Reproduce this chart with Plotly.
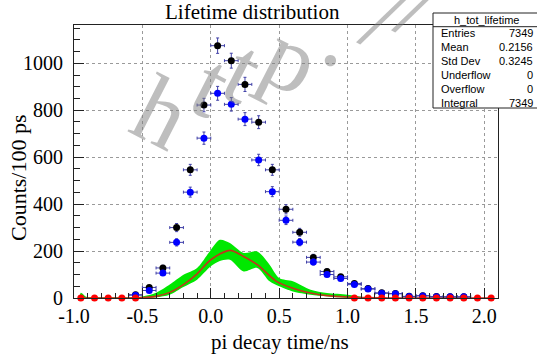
import numpy as np
import plotly.graph_objects as go

# ---------------- data ----------------
bin_x = [-0.55, -0.45, -0.35, -0.25, -0.15, -0.05, 0.05, 0.15, 0.25, 0.35, 0.45,
         0.55, 0.65, 0.75, 0.85, 0.95, 1.05, 1.15, 1.25, 1.35, 1.45, 1.55, 1.65, 1.75, 1.85]
black_counts = [14, 45, 128, 300, 546, 822, 1075, 1011, 910, 749, 546,
                378, 280, 173, 113, 90, 62, 40, 22, 19, 7, 10, 6, 5, 5]
blue_counts = [12, 32, 106, 237, 451, 681, 872, 825, 762, 588, 453,
               331, 238, 153, 100, 83, 57, 38, 20, 18, 6, 9, 5, 5, 5]

red_zero_x = [-0.95, -0.85, -0.75, -0.65, -0.55,
              1.05, 1.15, 1.25, 1.35, 1.45, 1.55, 1.65, 1.75, 1.85, 1.95, 2.05]
red_zero_y = [0] * len(red_zero_x)

curve_x = [-0.95, -0.6, -0.5, -0.4, -0.3, -0.2, -0.1, 0.0, 0.14, 0.24, 0.34, 0.48,
           0.6, 0.73, 0.85, 1.0, 1.1, 1.3, 2.05]
curve_y = [0, 0, 2, 7, 24, 57, 103, 163, 203, 177, 142, 71,
           42, 21, 10, 4, 2, 0, 0]

band_x = [-0.96, -0.95, -0.91, -0.85, -0.7, -0.6, -0.5, -0.4, -0.3, -0.2, -0.1, 0.0,
          0.066, 0.14, 0.24, 0.34, 0.43, 0.5, 0.6, 0.73, 0.85, 1.0, 1.1]
band_upper = [0, 22, 5, 3, 2, 2, 6, 22, 57, 99, 128, 205,
              248, 234, 192, 198, 142, 85, 71, 35, 21, 14, 5]
band_lower = [0, 0, 0, 0, 0, 0, 0, 3, 14, 47, 78, 135,
              158, 163, 113, 128, 71, 50, 28, 14, 7, 0, 0]

x_tickvals = [-1.0, -0.5, 0.0, 0.5, 1.0, 1.5, 2.0]
x_ticktext = ["-1.0", "-0.5", "0.0", "0.5", "1.0", "1.5", "2.0"]
y_tickvals = [0, 200, 400, 600, 800, 1000]

stats_title = "h_tot_lifetime"
stats_labels = ["Entries", "Mean", "Std Dev", "Underflow", "Overflow", "Integral"]
stats_values = ["7349", "0.2156", "0.3245", "0", "0", "7349"]

watermark_chars = ["h", "t", "t", "p", ".", "/", "/"]

# ---------------- layout helpers ----------------
W, H = 537, 354
ML, MR, MT, MB = 74, 39, 25, 56
PW, PH = W - ML - MR, H - MT - MB


def px(xp):
    return (xp - ML) / PW


def py(yp):
    return (H - MB - yp) / PH


SERIF = "Liberation Serif, Times New Roman, serif"
SANS = "Liberation Sans, Arial, sans-serif"
ERRC = "#4040a8"

fig = go.Figure()

# green band
fig.add_trace(go.Scatter(x=band_x, y=band_lower, mode="lines",
                         line=dict(width=0, color="rgba(0,0,0,0)", shape="spline", smoothing=0.8),
                         hoverinfo="skip", showlegend=False))
fig.add_trace(go.Scatter(x=band_x, y=band_upper, mode="lines", fill="tonexty",
                         fillcolor="rgb(0,232,0)",
                         line=dict(width=0, color="rgba(0,0,0,0)", shape="spline", smoothing=0.8),
                         hoverinfo="skip", showlegend=False))
# red curve
fig.add_trace(go.Scatter(x=curve_x, y=curve_y, mode="lines",
                         line=dict(width=1.6, color="#c0361c", shape="spline", smoothing=0.8),
                         showlegend=False))

half_w = [0.05] * len(bin_x)
fig.add_trace(go.Scatter(
    x=bin_x, y=black_counts, mode="markers",
    marker=dict(color="black", size=7),
    error_x=dict(type="data", array=half_w, color=ERRC, thickness=1, width=1.5),
    error_y=dict(type="data", array=list(np.sqrt(black_counts)), color=ERRC, thickness=1, width=1.5),
    showlegend=False))
fig.add_trace(go.Scatter(
    x=bin_x, y=blue_counts, mode="markers",
    marker=dict(color="#0000ff", size=7),
    error_x=dict(type="data", array=half_w, color=ERRC, thickness=1, width=1.5),
    error_y=dict(type="data", array=list(np.sqrt(blue_counts)), color=ERRC, thickness=1, width=1.5),
    showlegend=False))
fig.add_trace(go.Scatter(x=red_zero_x, y=red_zero_y, mode="markers",
                         marker=dict(color="#ff0000", size=7), cliponaxis=False,
                         showlegend=False))

axis_common = dict(showline=True, linecolor="#222", linewidth=1, mirror=True,
                   ticks="inside", tickcolor="#222", ticklen=10,
                   showgrid=True, gridcolor="#9a9a9a", griddash="dot", gridwidth=1,
                   zeroline=False, tickfont=dict(family=SERIF, size=20, color="black"))

fig.update_xaxes(range=[-1.0, 2.1], tickmode="array", tickvals=x_tickvals, ticktext=x_ticktext,
                 minor=dict(tickmode="linear", tick0=-1.0, dtick=0.1, ticks="inside",
                            ticklen=5, tickcolor="#222", showgrid=False),
                 **axis_common)
fig.update_yaxes(range=[0, 1163], tickmode="array", tickvals=y_tickvals,
                 minor=dict(tickmode="linear", tick0=0, dtick=50, ticks="inside",
                            ticklen=6, tickcolor="#222", showgrid=False),
                 ticklabelstandoff=6,
                 **axis_common)

annotations = []
# title
annotations.append(dict(text="Lifetime distribution", x=px(252), y=py(12), xref="paper", yref="paper",
                        showarrow=False, font=dict(family=SERIF, size=21, color="black"),
                        xanchor="center", yanchor="middle"))
# axis titles
annotations.append(dict(text="pi decay time/ns", x=px(280), y=py(342), xref="paper", yref="paper",
                        showarrow=False, font=dict(family=SERIF, size=21, color="black"),
                        xanchor="center", yanchor="middle"))
annotations.append(dict(text="Counts/100 ps", x=px(18), y=py(178), xref="paper", yref="paper",
                        showarrow=False, textangle=-90, font=dict(family=SERIF, size=22, color="black"),
                        xanchor="center", yanchor="middle"))

# stats box text
annotations.append(dict(text=stats_title, x=px(486), y=py(20), xref="paper", yref="paper",
                        showarrow=False, font=dict(family=SANS, size=11, color="black"),
                        xanchor="center", yanchor="middle"))
row_y = [33, 47, 61, 75, 89, 103]
for lab, val, ry in zip(stats_labels, stats_values, row_y):
    annotations.append(dict(text=lab, x=px(439), y=py(ry), xref="paper", yref="paper",
                            showarrow=False, font=dict(family=SANS, size=11, color="black"),
                            xanchor="left", yanchor="middle"))
    annotations.append(dict(text=val, x=px(535), y=py(ry), xref="paper", yref="paper",
                            showarrow=False, font=dict(family=SANS, size=11, color="black"),
                            xanchor="right", yanchor="middle"))

# watermark letters
wm_pos = [(162, 112), (211, 84), (243, 70), (292, 58), (343, 36), (383, 18), (418, 6)]
for ch, (wx, wy) in zip(watermark_chars, wm_pos):
    annotations.append(dict(text=ch, x=px(wx), y=py(wy), xref="paper", yref="paper",
                            showarrow=False, textangle=27,
                            font=dict(family=SERIF, size=96, color="rgba(125,125,125,0.5)"),
                            xanchor="center", yanchor="middle"))

shapes = [
    dict(type="rect", xref="paper", yref="paper", x0=px(433), x1=px(540), y0=py(108), y1=py(13),
         line=dict(color="#222", width=1), fillcolor="white", layer="above"),
    dict(type="line", xref="paper", yref="paper", x0=px(433), x1=px(540), y0=py(26.7), y1=py(26.7),
         line=dict(color="#222", width=1), layer="above"),
]

fig.update_layout(width=W, height=H, margin=dict(l=ML, r=MR, t=MT, b=MB),
                  paper_bgcolor="white", plot_bgcolor="white",
                  annotations=annotations, shapes=shapes, showlegend=False)

fig.write_html("out.html", config={"displayModeBar": False},
               post_script="document.body.style.margin='0px';document.body.style.overflow='hidden';")
